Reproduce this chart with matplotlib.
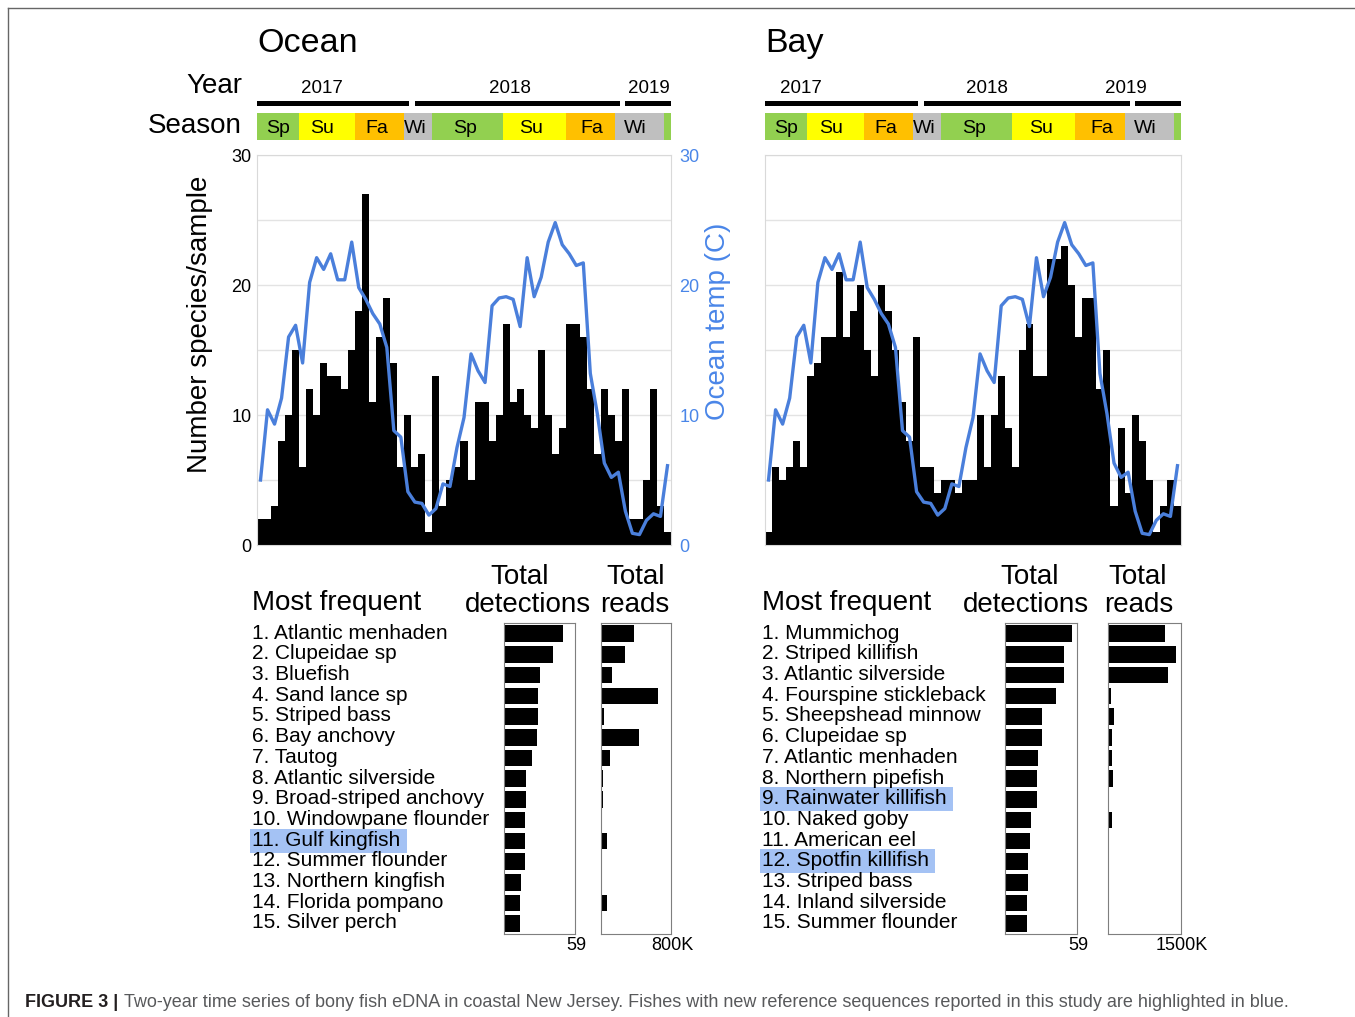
import matplotlib
matplotlib.use('Agg')
import matplotlib.pyplot as plt
from matplotlib.patches import Rectangle
from matplotlib.lines import Line2D
import numpy as np

plt.rcParams['font.family'] = ['Liberation Sans', 'DejaVu Sans']

# ---- data ----
ocean_count = [2, 2, 3, 8, 10, 15, 6, 12, 10, 14, 13, 13, 12, 15, 18, 27, 11, 16, 19, 14,
               6, 10, 6, 7, 1, 13, 3, 5, 6, 8, 5, 11, 11, 8, 10, 17, 11, 12, 10, 9,
               15, 10, 7, 9, 17, 17, 16, 12, 7, 12, 10, 8, 12, 2, 2, 5, 12, 3, 1]
bay_count = [1, 6, 5, 6, 8, 6, 13, 14, 16, 16, 21, 16, 18, 20, 15, 13, 20, 18, 15, 11,
             8, 16, 6, 6, 4, 5, 5, 4, 5, 5, 10, 6, 10, 13, 9, 6, 15, 17, 13, 13,
             22, 22, 23, 20, 16, 19, 19, 12, 15, 3, 9, 4, 10, 8, 5, 1, 3, 5, 3]
temp_c = [5.0, 10.4, 9.3, 11.3, 16.0, 16.9, 14.0, 20.2, 22.1, 21.2,
          22.4, 20.4, 20.4, 23.3, 19.8, 18.9, 17.8, 17.0, 15.2, 8.8,
          8.3, 4.1, 3.3, 3.2, 2.3, 2.8, 4.7, 4.5, 7.5, 9.8,
          14.7, 13.4, 12.5, 18.4, 19.0, 19.1, 18.9, 16.8, 22.1, 19.1,
          20.6, 23.3, 24.8, 23.1, 22.4, 21.5, 21.7, 13.2, 10.1, 6.3,
          5.2, 5.6, 2.6, 0.9, 0.8, 1.9, 2.4, 2.2, 6.1]

season_names = ['Sp', 'Su', 'Fa', 'Wi', 'Sp', 'Su', 'Fa', 'Wi', 'Sp']
season_edges = [0, 6, 14, 21, 25, 35, 44, 51, 58, 59]
season_label_x = [3.0, 9.3, 17.1, 22.6, 29.6, 39.1, 47.7, 53.9]
years = ['2017', '2018', '2019']
year_spans = [(0, 21.7), (22.5, 51.8), (52.5, 59)]
ocean_year_x = [9.3, 36.0, 55.9]
bay_year_x = [5.1, 31.5, 51.2]

ocean_species = ['Atlantic menhaden', 'Clupeidae sp', 'Bluefish', 'Sand lance sp', 'Striped bass',
                 'Bay anchovy', 'Tautog', 'Atlantic silverside', 'Broad-striped anchovy',
                 'Windowpane flounder', 'Gulf kingfish', 'Summer flounder', 'Northern kingfish',
                 'Florida pompano', 'Silver perch']
ocean_detections = [49, 41, 30, 28, 28, 27, 23, 18, 18, 17, 17, 17, 14, 13, 13]
ocean_reads_k = [375, 281, 133, 656, 42, 436, 102, 30, 23, 15, 68, 11, 19, 72, 4]
ocean_new_ref = ['Gulf kingfish']

bay_species = ['Mummichog', 'Striped killifish', 'Atlantic silverside', 'Fourspine stickleback',
               'Sheepshead minnow', 'Clupeidae sp', 'Atlantic menhaden', 'Northern pipefish',
               'Rainwater killifish', 'Naked goby', 'American eel', 'Spotfin killifish',
               'Striped bass', 'Inland silverside', 'Summer flounder']
bay_detections = [55, 48, 48, 42, 30, 30, 27, 26, 26, 21, 20, 19, 19, 18, 18]
bay_reads_k = [1170, 1390, 1225, 55, 117, 83, 83, 90, 20, 83, 6, 6, 6, 6, 6]
bay_new_ref = ['Rainwater killifish', 'Spotfin killifish']

season_colors = {'Sp': '#92d050', 'Su': '#ffff00', 'Fa': '#ffc000', 'Wi': '#bfbfbf'}
BLUE = '#4a7fdb'
LBLUE = '#4a86e8'

W, H = 1355, 1017
fig = plt.figure(figsize=(W / 100, H / 100), dpi=100)


def box(l, t, r, b):
    return fig.add_axes([l / W, 1 - b / H, (r - l) / W, (b - t) / H])


def ftext(x, y, s, **kw):
    return fig.text(x / W, 1 - y / H, s, **kw)


def panel(l, r, counts, title, year_x, show_axes):
    n = len(counts)
    xs = np.arange(n) + 0.5
    ax = box(l, 155, r, 545)
    ax.bar(xs, counts, width=1.0, color='black', linewidth=0)
    ax.set_xlim(0, n)
    ax.set_ylim(0, 30)
    ax.set_xticks([])
    ax.set_yticks([0, 10, 20, 30])
    ax.set_yticks([5, 15, 25], minor=True)
    ax.grid(axis='y', which='both', color='#e3e3e3', lw=1)
    ax.set_axisbelow(True)
    ax.tick_params(axis='y', which='both', length=0, labelsize=13, pad=4)
    if not show_axes:
        ax.set_yticklabels([])
    for sp in ax.spines.values():
        sp.set_color('#d9d9d9')
    ax2 = ax.twinx()
    ax2.plot(xs, temp_c, color=BLUE, lw=2.4, solid_joinstyle='round')
    ax2.set_ylim(0, 30)
    ax2.set_yticks([0, 10, 20, 30])
    ax2.tick_params(length=0, labelsize=13, labelcolor=LBLUE, pad=6)
    if not show_axes:
        ax2.set_yticklabels([])
    for sp in ax2.spines.values():
        sp.set_visible(False)

    # header: years + seasons
    hd = box(l, 60, r, 145)
    hd.set_xlim(0, n)
    hd.set_ylim(145, 60)
    hd.axis('off')
    for i, name in enumerate(season_names):
        a, b = season_edges[i], season_edges[i + 1]
        hd.add_patch(Rectangle((a, 112.7), b - a, 27.3, color=season_colors[name], lw=0))
    for name, sx in zip(season_names, season_label_x):
        hd.text(sx, 133.3, name, ha='center', va='baseline', fontsize=14)
    for yr, (a, b), yx in zip(years, year_spans, year_x):
        hd.add_patch(Rectangle((a, 101), b - a, 4.7, color='black', lw=0))
        hd.text(yx, 93.3, yr, ha='center', va='baseline', fontsize=13.5)
    ftext(l, 52, title, fontsize=24.5, ha='left', va='baseline')


panel(257, 671, ocean_count, 'Ocean', ocean_year_x, True)
panel(765, 1181, bay_count, 'Bay', bay_year_x, False)

ftext(242, 93.3, 'Year', fontsize=20, ha='right', va='baseline')
ftext(242, 133.3, 'Season', fontsize=20, ha='right', va='baseline')
ftext(200, 324, 'Number species/sample', fontsize=20, rotation=90, ha='center', va='center')
ftext(718, 321, 'Ocean temp (C)', fontsize=20, rotation=90, ha='center', va='center', color=LBLUE)

renderer = fig.canvas.get_renderer()
row0, pitch = 633.65, 20.7


def table(tx, det_box, rd_box, names, det, reads_k, read_max, read_lbl, new_ref, det_hdr, rd_hdr):
    ftext(tx, 610, 'Most frequent', fontsize=20, va='baseline')
    ftext(det_hdr[0], 584, 'Total', fontsize=20, ha='center', va='baseline')
    ftext(det_hdr[1], 612, 'detections', fontsize=20, ha='center', va='baseline')
    ftext(rd_hdr[0], 584, 'Total', fontsize=20, ha='center', va='baseline')
    ftext(rd_hdr[1], 612, 'reads', fontsize=20, ha='center', va='baseline')
    for i, name in enumerate(names):
        yc = row0 + pitch * i
        t = ftext(tx, yc + 5, f'{i + 1}. {name}', fontsize=15, va='baseline', zorder=3)
        if name in new_ref:
            bb = t.get_window_extent(renderer)
            x0, x1 = bb.x0 - 2, bb.x1 + 6
            fig.patches.append(Rectangle((x0 / W, 1 - (yc + 12) / H), (x1 - x0) / W, 24 / H,
                                         transform=fig.transFigure, color='#a4c2f4', lw=0, zorder=1))
    for (l, r), vals, vmax, lbl in [(det_box, det, 59, '59'), (rd_box, reads_k, read_max, read_lbl)]:
        a = box(l, 623.3, r, 934)
        a.barh(np.arange(len(vals)), vals, height=0.8, color='black', lw=0)
        a.set_ylim(len(vals) - 0.5, -0.5)
        a.set_xlim(0, vmax)
        a.set_xticks([])
        a.set_yticks([])
        for sp in a.spines.values():
            sp.set_color('#7f7f7f')
        ftext(r + 1, 946, lbl, fontsize=13, ha='center', va='center')


table(252.3, (504.3, 575), (600.7, 671), ocean_species, ocean_detections, ocean_reads_k,
      800, '800K', ocean_new_ref, (520, 527.5), (635.7, 634.3))
table(762.3, (1005, 1077.3), (1108.3, 1181), bay_species, bay_detections, bay_reads_k,
      1500, '1500K', bay_new_ref, (1030, 1025.8), (1137.5, 1139))

# caption
cap_font = ['Liberation Sans Narrow', 'Liberation Sans']
bold = ftext(25, 1007, 'FIGURE 3 |', fontsize=13, fontweight='bold', va='baseline',
             family=cap_font, color='#231f20')
bb = bold.get_window_extent(renderer)
bold.set_fontsize(13 * (118 - 25) / bb.width)
cap = ftext(124, 1007, 'Two-year time series of bony fish eDNA in coastal New Jersey. Fishes with new '
            'reference sequences reported in this study are highlighted in blue.',
            fontsize=13, va='baseline', family=cap_font, color='#58595b')
bb = cap.get_window_extent(renderer)
cap.set_fontsize(13 * (1288 - 124) / bb.width)

# page frame
fig.add_artist(Line2D([8 / W, 8 / W], [0, 1 - 8 / H], color='#666666', lw=1))
fig.add_artist(Line2D([8 / W, 1], [1 - 8 / H, 1 - 8 / H], color='#666666', lw=1))

fig.savefig('out.png', dpi=100)
